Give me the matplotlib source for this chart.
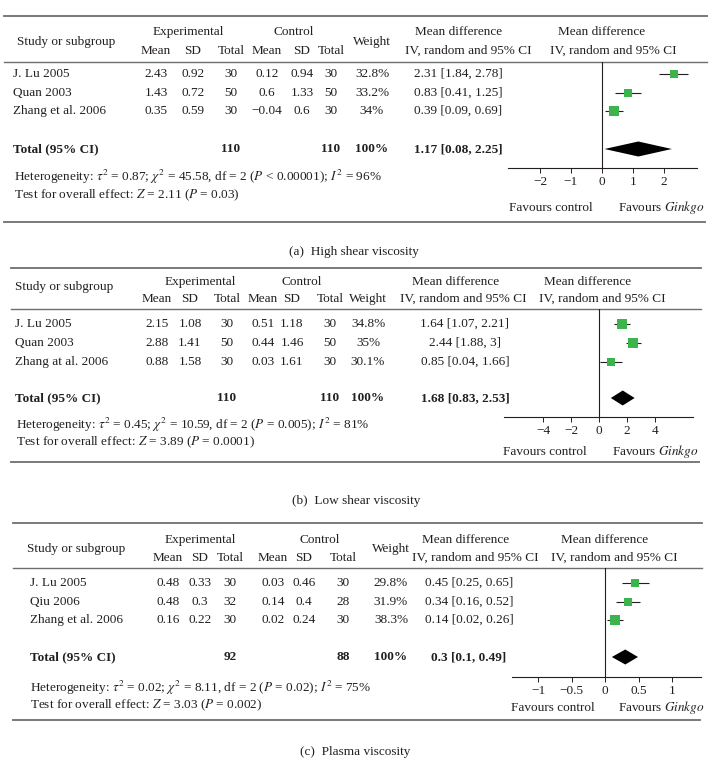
import numpy as np
import matplotlib.pyplot as plt
from matplotlib.patches import Polygon
from matplotlib.ticker import FuncFormatter

plt.rcParams['font.family'] = ['Liberation Serif', 'DejaVu Serif']
plt.rcParams['mathtext.fontset'] = 'stix'

## data
# (a) high shear viscosity
studies_a = ['J. Lu 2005', 'Quan 2003', 'Zhang et al. 2006']
exp_mean_a = [2.43, 1.43, 0.35]
exp_sd_a = [0.92, 0.72, 0.59]
exp_n_a = [30, 50, 30]
ctl_mean_a = [0.12, 0.6, -0.04]
ctl_sd_a = [0.94, 1.33, 0.6]
ctl_n_a = [30, 50, 30]
weight_a = [32.8, 33.2, 34]
md_a = [2.31, 0.83, 0.39]
md_lo_a = [1.84, 0.41, 0.09]
md_hi_a = [2.78, 1.25, 0.69]
total_a = [1.17, 0.08, 2.25]
n_total_a = [110, 110]
ticks_a = [-2, -1, 0, 1, 2]
het_a = r'Heterogeneity: $\tau^2$ = 0.87; $\chi^2$ = 45.58, df = 2 ($P$ < 0.00001); $I^2$ = 96%'
test_a = r'Test for overall effect: $Z$ = 2.11 ($P$ = 0.03)'

# (b) low shear viscosity
studies_b = ['J. Lu 2005', 'Quan 2003', 'Zhang at al. 2006']
exp_mean_b = [2.15, 2.88, 0.88]
exp_sd_b = [1.08, 1.41, 1.58]
exp_n_b = [30, 50, 30]
ctl_mean_b = [0.51, 0.44, 0.03]
ctl_sd_b = [1.18, 1.46, 1.61]
ctl_n_b = [30, 50, 30]
weight_b = [34.8, 35, 30.1]
md_b = [1.64, 2.44, 0.85]
md_lo_b = [1.07, 1.88, 0.04]
md_hi_b = [2.21, 3, 1.66]
total_b = [1.68, 0.83, 2.53]
n_total_b = [110, 110]
ticks_b = [-4, -2, 0, 2, 4]
het_b = r'Heterogeneity: $\tau^2$ = 0.45; $\chi^2$ = 10.59, df = 2 ($P$ = 0.005); $I^2$ = 81%'
test_b = r'Test for overall effect: $Z$ = 3.89 ($P$ = 0.0001)'

# (c) plasma viscosity
studies_c = ['J. Lu 2005', 'Qiu 2006', 'Zhang et al. 2006']
exp_mean_c = [0.48, 0.48, 0.16]
exp_sd_c = [0.33, 0.3, 0.22]
exp_n_c = [30, 32, 30]
ctl_mean_c = [0.03, 0.14, 0.02]
ctl_sd_c = [0.46, 0.4, 0.24]
ctl_n_c = [30, 28, 30]
weight_c = [29.8, 31.9, 38.3]
md_c = [0.45, 0.34, 0.14]
md_lo_c = [0.25, 0.16, 0.02]
md_hi_c = [0.65, 0.52, 0.26]
total_c = [0.3, 0.1, 0.49]
n_total_c = [92, 88]
ticks_c = [-1, -0.5, 0, 0.5, 1]
het_c = r'Heterogeneity: $\tau^2$ = 0.02; $\chi^2$ = 8.11, df = 2 ($P$ = 0.02); $I^2$ = 75%'
test_c = r'Test for overall effect: $Z$ = 3.03 ($P$ = 0.002)'

captions = ['(a)  High shear viscosity', '(b)  Low shear viscosity', '(c)  Plasma viscosity']

## layout in pixels (y down)
W, H = 723, 771
FS = 9.5
TXT = '#231f20'
RULE = '#6d6e71'
GREEN = '#3cb44b'

layouts = [
    dict(rule_x=(4, 707), top=16, hdr=62, bot=222, grp_y=32, mid_y=42, sub_y=51,
         weight_y=42, lab_x=13, hdr_x=17, exp_c=188, ctl_c=294,
         cols=[156, 193, 231, 267, 302, 331], w_x=372, md_x=458, mdh=(459, 468),
         fh=(602, 613), rows=[74, 93, 111], tot_y=149, het_x=14, het_y=177, test_y=195,
         fax=(508, 697), axis_y=168, xlim=(-3.03, 3.06), tick_y=185, fav_y=208,
         fav=(593, 618), cap=(354, 252)),
    dict(rule_x=(11, 701), top=268, hdr=309, bot=462, grp_y=282, mid_y=287, sub_y=299,
         weight_y=299, lab_x=15, hdr_x=15, exp_c=200, ctl_c=302,
         cols=[157, 190, 227, 263, 292, 330], w_x=368, md_x=465, mdh=(456, 463),
         fh=(588, 602), rows=[324, 343, 362], tot_y=398, het_x=16, het_y=425, test_y=442,
         fax=(504, 693), axis_y=417, xlim=(-6.8, 6.7), tick_y=432, fav_y=452,
         fav=(587, 612), cap=(356, 501)),
    dict(rule_x=(13, 702), top=523, hdr=568, bot=720, grp_y=540, mid_y=549, sub_y=558,
         weight_y=549, lab_x=30, hdr_x=27, exp_c=200, ctl_c=320,
         cols=[168, 200, 230, 273, 304, 343], w_x=391, md_x=469, mdh=(466, 475),
         fh=(605, 614), rows=[583, 602, 620], tot_y=657, het_x=30, het_y=688, test_y=705,
         fax=(512, 701), axis_y=677, xlim=(-1.39, 1.43), tick_y=691, fav_y=708,
         fav=(595, 618), cap=(355, 752)),
]


def num(v):
    s = '%g' % v
    return s.replace('-', '\u2212')


fig = plt.figure(figsize=(W / 100, H / 100), dpi=100)
base = fig.add_axes([0, 0, 1, 1])
base.set_xlim(0, W)
base.set_ylim(H, 0)
base.axis('off')


def t(x, y, s, ha='center', **kw):
    base.text(x, y, s, ha=ha, va='center', fontsize=FS, color=TXT, **kw)


panels = [
    (studies_a, exp_mean_a, exp_sd_a, exp_n_a, ctl_mean_a, ctl_sd_a, ctl_n_a, weight_a,
     md_a, md_lo_a, md_hi_a, total_a, n_total_a, ticks_a, het_a, test_a),
    (studies_b, exp_mean_b, exp_sd_b, exp_n_b, ctl_mean_b, ctl_sd_b, ctl_n_b, weight_b,
     md_b, md_lo_b, md_hi_b, total_b, n_total_b, ticks_b, het_b, test_b),
    (studies_c, exp_mean_c, exp_sd_c, exp_n_c, ctl_mean_c, ctl_sd_c, ctl_n_c, weight_c,
     md_c, md_lo_c, md_hi_c, total_c, n_total_c, ticks_c, het_c, test_c),
]

for k, (p, L) in enumerate(zip(panels, layouts)):
    (studies, em, esd, en, cm, csd, cn, wt, md, lo, hi, tot, ntot, ticks, het, test) = p

    # rules
    base.plot(L['rule_x'], [L['top']] * 2, color=RULE, lw=1.3)
    base.plot(L['rule_x'], [L['hdr']] * 2, color=RULE, lw=1.0)
    base.plot((L['rule_x'][0], L['rule_x'][1] - 2), [L['bot']] * 2, color=RULE, lw=1.3)

    # header
    t(L['hdr_x'], L['mid_y'], 'Study or subgroup', ha='left')
    t(L['exp_c'], L['grp_y'], 'Experimental')
    t(L['ctl_c'], L['grp_y'], 'Control')
    for x, s in zip(L['cols'], ['Mean', 'SD', 'Total', 'Mean', 'SD', 'Total']):
        t(x, L['sub_y'], s)
    t(L['w_x'], L['weight_y'], 'Weight')
    t(L['mdh'][0], L['grp_y'], 'Mean difference')
    t(L['mdh'][1], L['sub_y'], 'IV, random and 95% CI')
    t(L['fh'][0], L['grp_y'], 'Mean difference')
    t(L['fh'][1], L['sub_y'], 'IV, random and 95% CI')

    # study rows
    for i, y in enumerate(L['rows']):
        t(L['lab_x'], y, studies[i], ha='left')
        vals = [em[i], esd[i], en[i], cm[i], csd[i], cn[i]]
        for x, v in zip(L['cols'], vals):
            t(x, y, num(v))
        t(L['w_x'], y, num(wt[i]) + '%')
        t(L['md_x'], y, '%s [%s, %s]' % (num(md[i]), num(lo[i]), num(hi[i])))

    # total row
    ty = L['tot_y']
    t(L['lab_x'], ty, 'Total (95% CI)', ha='left', fontweight='bold')
    t(L['cols'][2], ty, str(ntot[0]), fontweight='bold')
    t(L['cols'][5], ty, str(ntot[1]), fontweight='bold')
    t(L['w_x'], ty, '100%', fontweight='bold')
    t(L['md_x'], ty, '%s [%s, %s]' % (num(tot[0]), num(tot[1]), num(tot[2])), fontweight='bold')

    t(L['het_x'], L['het_y'], het, ha='left')
    t(L['het_x'], L['test_y'], test, ha='left')
    t(L['fav'][0], L['fav_y'], 'Favours control', ha='right')
    t(L['fav'][1], L['fav_y'], r'Favours $Ginkgo$', ha='left')
    t(L['cap'][0], L['cap'][1], captions[k])

    # forest plot axes, y in page pixels
    x0, x1 = L['fax']
    ax = fig.add_axes([x0 / W, 1 - L['axis_y'] / H, (x1 - x0) / W, (L['axis_y'] - L['hdr']) / H])
    ax.set_xlim(*L['xlim'])
    ax.set_ylim(L['axis_y'], L['hdr'])
    ax.patch.set_alpha(0)
    for s in ['top', 'left', 'right']:
        ax.spines[s].set_visible(False)
    ax.spines['bottom'].set_color(TXT)
    ax.spines['bottom'].set_linewidth(0.8)
    ax.set_yticks([])
    ax.set_xticks(ticks)
    ax.xaxis.set_major_formatter(FuncFormatter(lambda v, pos: num(v)))
    ax.tick_params(axis='x', direction='out', length=3.5, width=0.7, pad=2.5,
                   labelsize=FS, colors=TXT)
    ax.axvline(0, color=TXT, lw=0.8)

    rows = np.array(L['rows'])
    ax.hlines(rows, lo, hi, color=TXT, lw=0.8)
    sizes = 6.4 * np.sqrt(np.array(wt) / 33.0)
    for i in range(len(md)):
        ax.plot(md[i], rows[i], 's', color=GREEN, ms=sizes[i], mew=0)
    dh = 7.5
    ax.add_patch(Polygon([(tot[1], ty), (tot[0], ty - dh), (tot[2], ty), (tot[0], ty + dh)],
                         closed=True, color='black', lw=0))

fig.savefig('out.png', dpi=100)
